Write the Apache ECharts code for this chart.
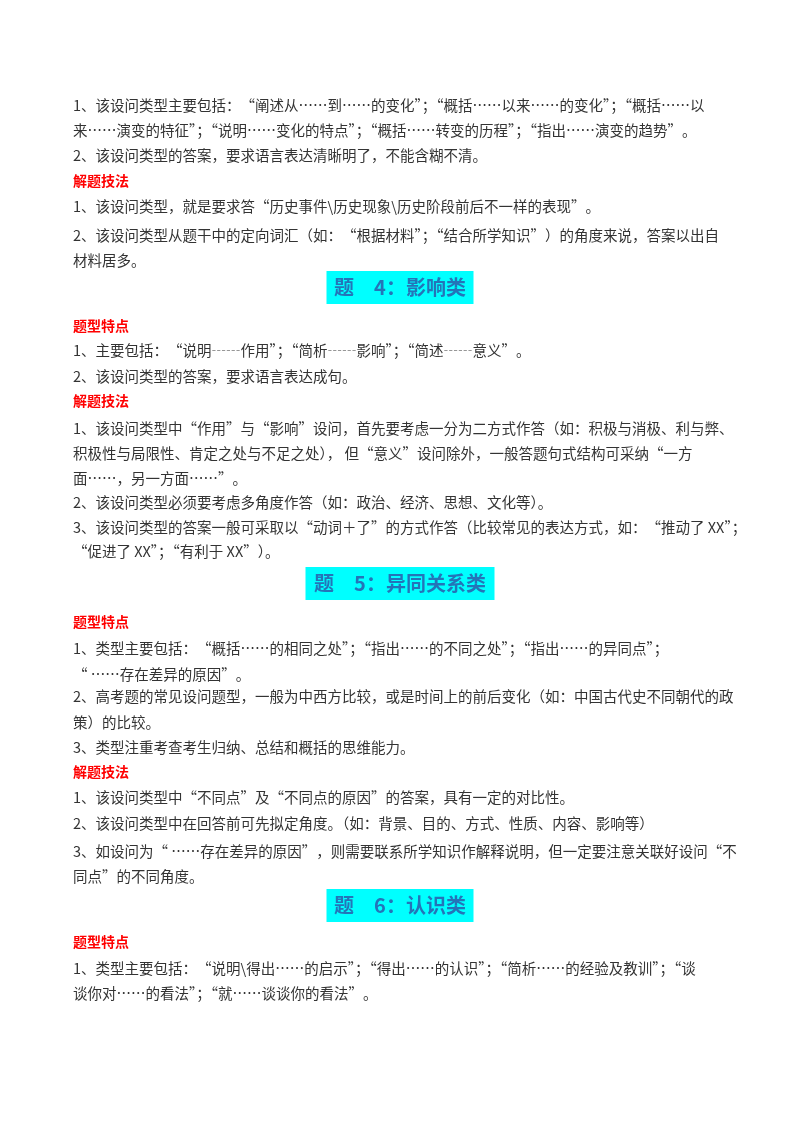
<!DOCTYPE html>
<html><head><meta charset="utf-8">
<script src="https://cdn.jsdelivr.net/npm/echarts@6/dist/echarts.min.js"></script>
<style>html,body{margin:0;padding:0;background:#fff}#c{width:800px;height:1132px}</style>
</head><body><div id="c"></div>
<script>
// ===== Content =====
// kind: b = body text, r = red section label, h = cyan heading
const lineKinds = ['b','b','b','r','b','b','b','h','r','b','b','r','b','b','b','b','b','b','h','r','b','b','b','b','b','r','b','b','b','b','h','r','b','b'];
const lineTexts = [
  '1、该设问类型主要包括：“阐述从……到……的变化”；“概括……以来……的变化”；“概括……以',
  '来……演变的特征”；“说明……变化的特点”；“概括……转变的历程”；“指出……演变的趋势”。',
  '2、该设问类型的答案，要求语言表达清晰明了，不能含糊不清。',
  '解题技法',
  '1、该设问类型，就是要求答“历史事件\\历史现象\\历史阶段前后不一样的表现”。',
  '2、该设问类型从题干中的定向词汇（如：“根据材料”；“结合所学知识”）的角度来说，答案以出自',
  '材料居多。',
  '题　4：影响类',
  '题型特点',
  '1、主要包括：“说明┄┄作用”；“简析┄┄影响”；“简述┄┄意义”。',
  '2、该设问类型的答案，要求语言表达成句。',
  '解题技法',
  '1、该设问类型中“作用”与“影响”设问，首先要考虑一分为二方式作答（如：积极与消极、利与弊、',
  '积极性与局限性、肯定之处与不足之处）， 但“意义”设问除外，一般答题句式结构可采纳“一方',
  '面……，另一方面……”。',
  '2、该设问类型必须要考虑多角度作答（如：政治、经济、思想、文化等）。',
  '3、该设问类型的答案一般可采取以“动词＋了”的方式作答（比较常见的表达方式，如：“推动了 XX”；',
  '“促进了 XX”；“有利于 XX”）。',
  '题　5：异同关系类',
  '题型特点',
  '1、类型主要包括：“概括……的相同之处”；“指出……的不同之处”；“指出……的异同点”；',
  '“ ……存在差异的原因”。',
  '2、高考题的常见设问题型，一般为中西方比较，或是时间上的前后变化（如：中国古代史不同朝代的政',
  '策）的比较。',
  '3、类型注重考查考生归纳、总结和概括的思维能力。',
  '解题技法',
  '1、该设问类型中“不同点”及“不同点的原因”的答案，具有一定的对比性。',
  '2、该设问类型中在回答前可先拟定角度。（如：背景、目的、方式、性质、内容、影响等）',
  '3、如设问为“ ……存在差异的原因”，则需要联系所学知识作解释说明，但一定要注意关联好设问“不',
  '同点”的不同角度。',
  '题　6：认识类',
  '题型特点',
  '1、类型主要包括：“说明\\得出……的启示”；“得出……的认识”；“简析……的经验及教训”；“谈',
  '谈你对……的看法”；“就……谈谈你的看法”。'
];

// ===== Layout =====
const lineY = [105,130,155,181,206,235,260,287,326,350,376,401,428,453,478,502,527,551,583,622,648,674,696,722,747,772,797,823,851,876,905,942,968,993];
const FONT = '"Noto Sans CJK SC", sans-serif';
const LEFT = 73, RIGHT = 727;

const chart = echarts.init(document.getElementById('c'));
const els = [];
lineTexts.forEach((t, i) => {
  const k = lineKinds[i], y = lineY[i];
  if (k === 'h') {
    const w = t.length * 21;
    els.push({ type: 'rect', shape: { x: 400 - w / 2, y: y - 16, width: w, height: 33 }, style: { fill: '#00ffff' } });
    els.push({ type: 'text', x: 400, y: y, style: { text: t, font: 'bold 20px ' + FONT, fill: '#2474b8', align: 'center', verticalAlign: 'middle' } });
  } else if (k === 'r') {
    els.push({ type: 'text', x: LEFT, y: y, style: { text: t, font: 'bold 14px ' + FONT, fill: '#ff0000', verticalAlign: 'middle' } });
  } else {
    els.push({ type: 'text', x: LEFT, y: y, style: { text: t, font: '14.5px ' + FONT, fill: '#333', verticalAlign: 'middle' } });
  }
});
chart.setOption({ graphic: { elements: els } });

// stretch long lines to the right margin
const zr = chart.getZr();
zr.storage.getDisplayList(true).forEach(el => {
  if (el.type !== 'text' || !el.style || el.style.fill !== '#333') return;
  const r = el.getBoundingRect();
  if (r.width > 600 && r.width < RIGHT - LEFT) { el.scaleX = (RIGHT - LEFT) / r.width; el.originX = LEFT; el.markRedraw(); }
});
</script></body></html>
